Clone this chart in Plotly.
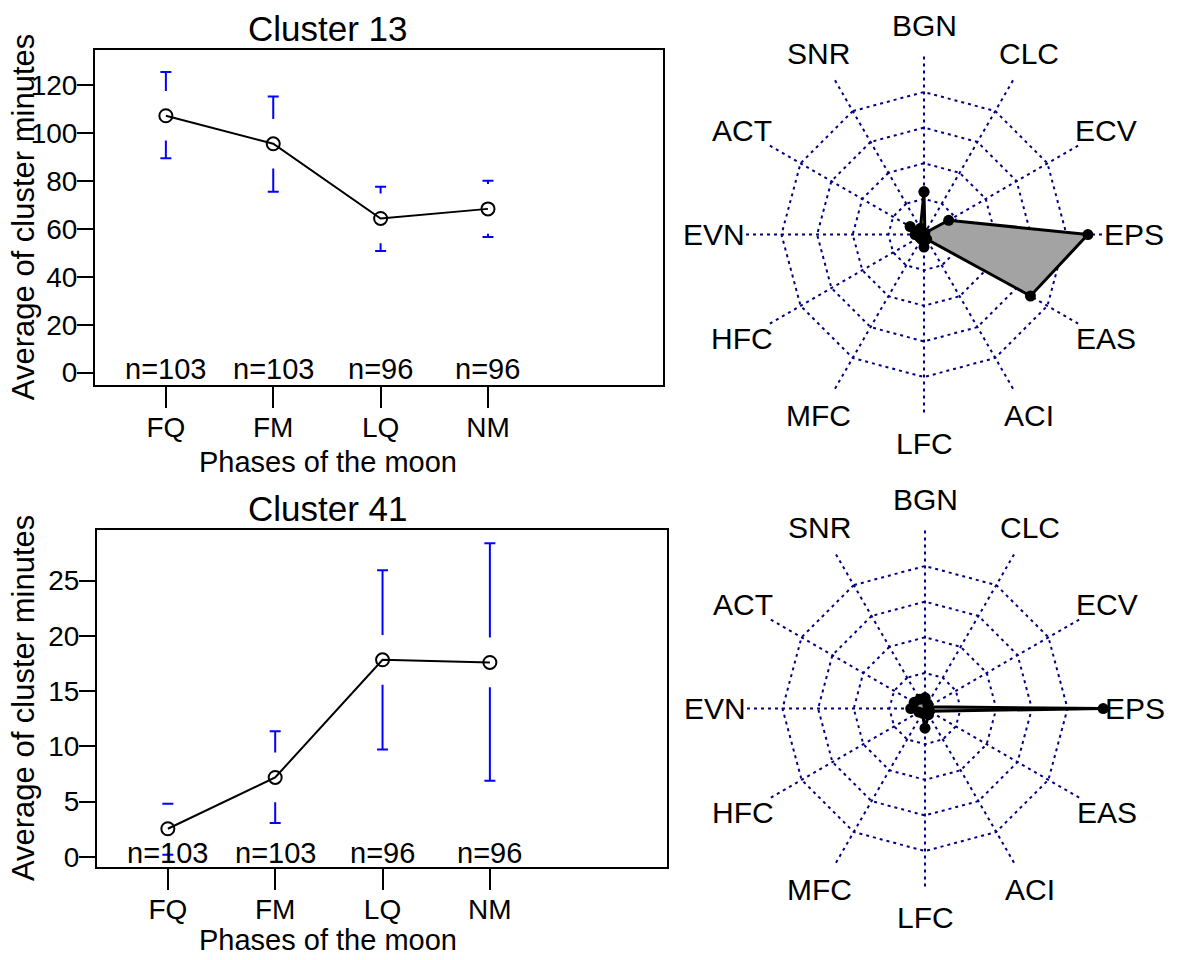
import math
import plotly.graph_objects as go

# ---------------- data ----------------
phases = ["FQ", "FM", "LQ", "NM"]
n_counts = [103, 103, 96, 96]

c13_mean = [107.3, 95.6, 64.4, 68.4]
c13_upper = [125.6, 115.3, 77.6, 80.1]
c13_lower = [89.5, 75.6, 50.8, 56.7]

c41_mean = [2.55, 7.19, 17.83, 17.59]
c41_upper = [4.8, 11.36, 25.93, 28.38]
c41_lower = [0.2, 3.06, 9.71, 6.89]

c13_yticks = [0, 20, 40, 60, 80, 100, 120]
c41_yticks = [0, 5, 10, 15, 20, 25]

radar_axes = ["BGN", "CLC", "ECV", "EPS", "EAS", "ACI", "LFC", "MFC", "HFC", "EVN", "ACT", "SNR"]
c13_radar = [0.24, 0.01, 0.16, 0.92, 0.69, 0.03, 0.07, 0.03, 0.03, 0.05, 0.09, 0.04]
c41_radar = [0.06, 0.03, 0.02, 1.00, 0.03, 0.04, 0.11, 0.03, 0.04, 0.08, 0.07, 0.06]
radar_rings = [0.2, 0.4, 0.6, 0.8, 1.0]

# ---------------- style / layout constants ----------------
W, H = 1183, 960
OFF = 0          # page body margin (removed by post_script)
FONT = "Liberation Sans, Arial, sans-serif"
GAP_PX = 25      # gap around the mean point in the CI bars (pixels)
CAP_PX = 5.5     # half width of CI caps (pixels)
LABEL_R = 1.167  # radar label radius (fraction of outer ring)


def px_x(x):
    return (x - OFF) / W


def px_y(y):
    return 1 - (y - OFF) / H


panels = [
    dict(title="Cluster 13", mean=c13_mean, up=c13_upper, lo=c13_lower, yticks=c13_yticks,
         box=(95, 663, 50, 387), yrange=[-5.0, 134.9],
         xrange=[-0.66, 4.63], title_y=29, xtitle_y=465, xa="x", ya="y", nshift=4),
    dict(title="Cluster 41", mean=c41_mean, up=c41_upper, lo=c41_lower, yticks=c41_yticks,
         box=(97, 667, 533, 872), yrange=[-0.87, 29.6],
         xrange=[-0.66, 4.65], title_y=512, xtitle_y=946, xa="x2", ya="y2", nshift=4),
]

fig = go.Figure()
annotations = []

for k, p in enumerate(panels):
    x0, x1, y0, y1 = p["box"]
    xdom = [px_x(x0), px_x(x1)]
    ydom = [px_y(y1), px_y(y0)]
    ppu_y = (y1 - y0) / (p["yrange"][1] - p["yrange"][0])
    ppu_x = (x1 - x0) / (p["xrange"][1] - p["xrange"][0])
    gap = GAP_PX / ppu_y
    cap = CAP_PX / ppu_x
    xs, ys = [], []
    for i, (m, u, l) in enumerate(zip(p["mean"], p["up"], p["lo"])):
        if u > m + gap:
            xs += [i, i, None]
            ys += [m + gap, u, None]
        xs += [i - cap, i + cap, None]
        ys += [u, u, None]
        if l < m - gap:
            xs += [i, i, None]
            ys += [m - gap, l, None]
        xs += [i - cap, i + cap, None]
        ys += [l, l, None]
    fig.add_trace(go.Scatter(x=xs, y=ys, mode="lines", line=dict(color="#0000ff", width=2),
                             xaxis=p["xa"], yaxis=p["ya"], showlegend=False, hoverinfo="skip"))
    fig.add_trace(go.Scatter(x=list(range(len(phases))), y=p["mean"], mode="lines+markers",
                             line=dict(color="black", width=2),
                             marker=dict(symbol="circle-open", size=13, color="black",
                                         line=dict(width=2, color="black")),
                             xaxis=p["xa"], yaxis=p["ya"], showlegend=False))
    for i, n in enumerate(n_counts):
        annotations.append(dict(x=i, y=0, xref=p["xa"], yref=p["ya"], text=f"n={n}",
                                showarrow=False, yanchor="middle", yshift=p["nshift"],
                                font=dict(family=FONT, size=29, color="black")))
    annotations.append(dict(x=px_x(327.5), y=px_y(p["title_y"]), xref="paper", yref="paper",
                            text=p["title"], showarrow=False, xanchor="center", yanchor="middle",
                            font=dict(family=FONT, size=35, color="black")))
    annotations.append(dict(x=px_x(327.5), y=px_y(p["xtitle_y"]), xref="paper", yref="paper",
                            text="Phases of the moon", showarrow=False, xanchor="center",
                            yanchor="middle", font=dict(family=FONT, size=29, color="black")))
    annotations.append(dict(x=px_x(23), y=(ydom[0] + ydom[1]) / 2, xref="paper",
                            yref="paper", text="Average of cluster minutes", textangle=-90,
                            showarrow=False, xanchor="center", yanchor="middle",
                            font=dict(family=FONT, size=31, color="black")))

    axis_common = dict(showgrid=False, zeroline=False, showline=True, linecolor="black",
                       linewidth=2, mirror=True, ticks="outside", tickcolor="black",
                       tickwidth=2, tickfont=dict(family=FONT, size=28, color="black"))
    xkey = "xaxis" if k == 0 else "xaxis2"
    ykey = "yaxis" if k == 0 else "yaxis2"
    fig.layout[xkey] = dict(domain=xdom, range=p["xrange"], anchor=p["ya"],
                            tickvals=list(range(len(phases))), ticktext=phases, ticklen=21,
                            ticklabelstandoff=-4, **axis_common)
    fig.layout[ykey] = dict(domain=ydom, range=p["yrange"], anchor=p["xa"],
                            tickvals=p["yticks"], ticklen=16, ticklabelstandoff=-6,
                            **axis_common)

# ---------------- radar charts ----------------
radars = [
    dict(vals=c13_radar, cx=924, cy=236, key="polar", sub="polar"),
    dict(vals=c41_radar, cx=925, cy=713, key="polar2", sub="polar2"),
]
R = 180
for rd in radars:
    theta = radar_axes + [radar_axes[0]]
    r = rd["vals"] + [rd["vals"][0]]
    fig.add_trace(go.Scatterpolar(r=r, theta=theta, mode="lines+markers", fill="toself",
                                  fillcolor="#a3a3a3", line=dict(color="black", width=3),
                                  marker=dict(size=11, color="black"), subplot=rd["sub"],
                                  showlegend=False))
    fig.layout[rd["key"]] = dict(
        domain=dict(x=[px_x(rd["cx"] - R), px_x(rd["cx"] + R)],
                    y=[px_y(rd["cy"] + R), px_y(rd["cy"] - R)]),
        gridshape="linear", bgcolor="white",
        radialaxis=dict(range=[0, 1.004], tickvals=radar_rings, showticklabels=False, ticks="",
                        showline=False, gridcolor="#000080", gridwidth=2.2, griddash="3px,4px"),
        angularaxis=dict(categoryarray=radar_axes, categoryorder="array", direction="clockwise",
                         rotation=90, showticklabels=False, ticks="", showline=False,
                         gridcolor="#000080", gridwidth=2.2, griddash="3px,4px"),
    )
    for i, lab in enumerate(radar_axes):
        ang = 2 * math.pi * i / len(radar_axes)
        lx = rd["cx"] + LABEL_R * R * math.sin(ang)
        ly = rd["cy"] - LABEL_R * R * math.cos(ang)
        annotations.append(dict(x=px_x(lx), y=px_y(ly), xref="paper", yref="paper", text=lab,
                                showarrow=False, xanchor="center", yanchor="middle",
                                font=dict(family=FONT, size=30, color="black")))

fig.update_layout(width=W, height=H, margin=dict(l=0, r=0, t=0, b=0),
                  paper_bgcolor="white", plot_bgcolor="white", annotations=annotations,
                  showlegend=False)
fig.write_html("out.html", config={"displayModeBar": False},
               post_script="document.body.style.margin='0';")
